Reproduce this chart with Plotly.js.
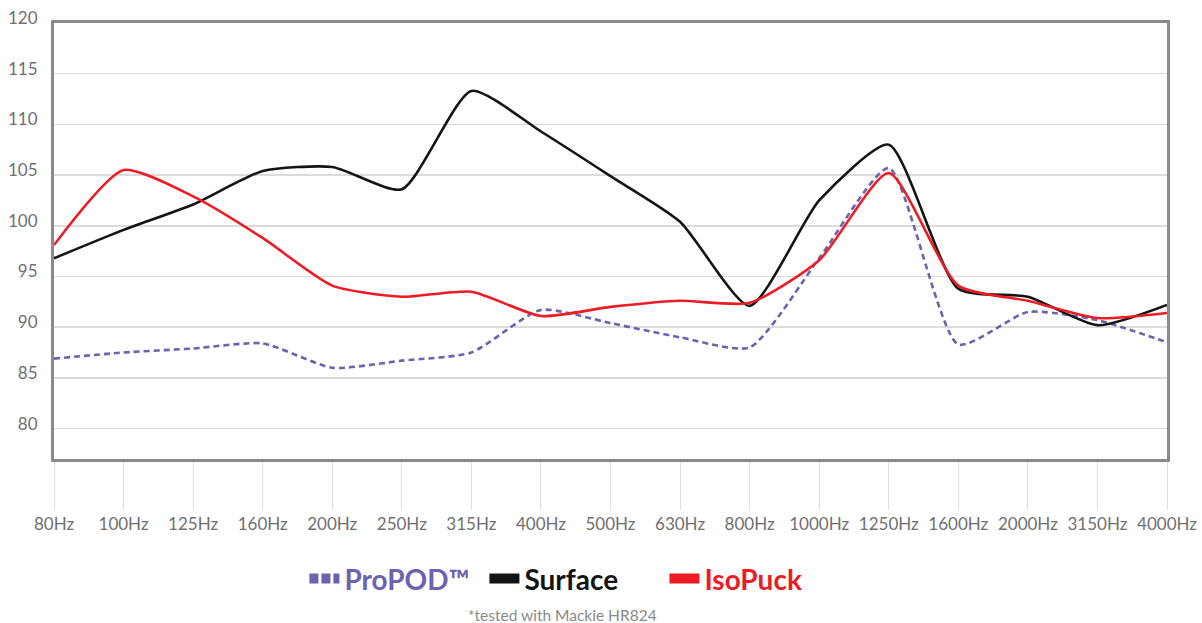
<!DOCTYPE html>
<html>
<head>
<meta charset="utf-8">
<script src="https://cdn.plot.ly/plotly-3.0.1.min.js"></script>
<style>
  html, body { margin: 0; padding: 0; background: #ffffff; }
  #chart { width: 1202px; height: 623px; }
</style>
</head>
<body>
<div id="chart"></div>
<script>
const categories = ["80Hz","100Hz","125Hz","160Hz","200Hz","250Hz","315Hz","400Hz","500Hz","630Hz","800Hz","1000Hz","1250Hz","1600Hz","2000Hz","3150Hz","4000Hz"];
const proPOD  = [86.9, 87.5, 87.9, 88.4, 86.0, 86.7, 87.5, 91.7, 90.4, 89.0, 88.0, 96.8, 105.7, 88.3, 91.5, 90.7, 88.5];
const surface = [96.8, 99.6, 102.1, 105.4, 105.8, 103.6, 113.3, 109.3, 104.9, 100.4, 92.1, 102.5, 108.0, 93.8, 93.0, 90.2, 92.2];
const isoPuck = [98.1, 105.5, 102.9, 98.8, 94.1, 93.0, 93.5, 91.1, 92.0, 92.6, 92.4, 96.6, 105.2, 94.1, 92.6, 90.9, 91.4];
const yTicks = [80, 85, 90, 95, 100, 105, 110, 115, 120];
const seriesNames = ["ProPOD™", "Surface", "IsoPuck"];
const colors = ["#6d62ad", "#141414", "#ed1c24"];
const footnote = "*tested with Mackie HR824";

const FONT = "Lato, 'Open Sans', sans-serif";

function lineTrace(y, i, dash) {
  return {
    x: categories, y: y, type: "scatter", mode: "lines",
    line: { color: colors[i], width: 2.6, shape: "spline", smoothing: 0.6, dash: dash || "solid" },
    showlegend: false, hoverinfo: "skip"
  };
}
function legendTrace(i, dash) {
  return {
    x: [null], y: [null], type: "scatter", mode: "lines",
    name: '<span style="color:' + colors[i] + '">' + seriesNames[i] + '</span>',
    line: { color: colors[i], width: 10, dash: dash || "solid" },
    showlegend: true, hoverinfo: "skip"
  };
}

const data = [
  lineTrace(proPOD, 0, "6px,4px"),
  lineTrace(surface, 1),
  lineTrace(isoPuck, 2),
  legendTrace(0, "9px,3px"),
  legendTrace(1),
  legendTrace(2)
];

const layout = {
  width: 1202, height: 623,
  margin: { l: 54, r: 35, t: 23, b: 164, pad: 0 },
  paper_bgcolor: "#ffffff", plot_bgcolor: "#ffffff",
  font: { family: FONT, color: "#6f6f6f" },
  xaxis: {
    type: "category", range: [0, 16],
    showgrid: false, zeroline: false,
    showline: true, mirror: true, linecolor: "#8a8a8a", linewidth: 3,
    ticks: "outside", ticklen: 48, tickwidth: 1, tickcolor: "#dddddd",
    tickfont: { size: 17, color: "#707070", family: FONT },
    fixedrange: true
  },
  yaxis: {
    range: [77, 120], tickvals: yTicks, ticktext: yTicks.map(String),
    showgrid: true, gridcolor: "#dcdcdc", gridwidth: 1.5,
    zeroline: false,
    showline: true, mirror: true, linecolor: "#8a8a8a", linewidth: 3,
    ticks: "", ticklabelstandoff: 10, ticklabelshift: -5,
    tickfont: { size: 17, color: "#6f6f6f", family: FONT },
    fixedrange: true
  },
  showlegend: true,
  legend: {
    orientation: "h", x: 0.225, xanchor: "left", y: -0.275, yanchor: "middle",
    font: { size: 28, family: FONT, weight: "bold" },
    traceorder: "normal", itemwidth: 30, bgcolor: "rgba(0,0,0,0)",
    entrywidth: 135, entrywidthmode: "pixels"
  },
  annotations: [{
    text: footnote, xref: "paper", yref: "paper", x: 0.457, y: -0.358,
    xanchor: "center", yanchor: "middle", showarrow: false,
    font: { size: 15.5, color: "#8a8a8a", family: FONT }
  }]
};

Plotly.newPlot("chart", data, layout, { staticPlot: true, displayModeBar: false });
</script>
</body>
</html>
